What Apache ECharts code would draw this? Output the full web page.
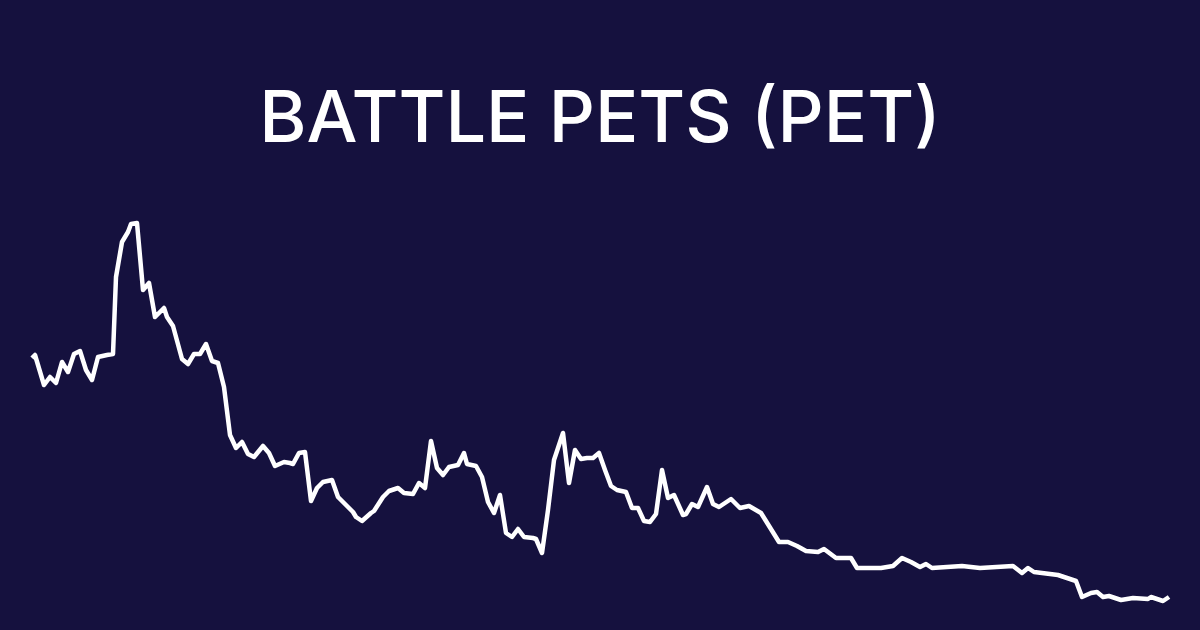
<!DOCTYPE html>
<html>
<head>
<meta charset="utf-8">
<script src="https://cdn.jsdelivr.net/npm/echarts@6/dist/echarts.min.js"></script>
<style>
html,body{margin:0;padding:0;background:#15113e;}
#chart{width:1200px;height:630px;}
</style>
</head>
<body>
<div id="chart"></div>
<script>
const titleText = "BATTLE PETS (PET)";
const days = [0,1,4,6,8,10,12,14,16,18,20,22,25,27,28,30,32,33,35,37,39,41,44,45,47,50,52,54,56,58,60,62,64,66,68,70,72,74,77,79,81,84,86,87,89,91,93,95,97,100,102,104,107,108,110,113,114,117,119,122,124,127,129,131,133,135,137,139,142,144,145,148,150,152,154,156,158,160,162,164,167,168,170,172,174,177,179,181,183,185,187,189,191,193,195,198,200,202,204,206,208,210,212,214,217,218,220,222,225,227,229,233,236,239,243,249,252,255,258,262,264,268,273,275,283,287,290,293,296,298,300,310,316,327,330,332,334,342,348,350,353,355,357,359,363,367,372,373,377,379];
const prices = [0.272,0.275,0.245,0.253,0.247,0.268,0.258,0.276,0.279,0.260,0.250,0.273,0.275,0.276,0.353,0.388,0.398,0.406,0.407,0.340,0.347,0.313,0.322,0.313,0.304,0.271,0.266,0.276,0.276,0.286,0.269,0.267,0.243,0.195,0.182,0.188,0.176,0.173,0.184,0.177,0.164,0.168,0.167,0.166,0.177,0.178,0.129,0.142,0.148,0.150,0.133,0.127,0.118,0.113,0.109,0.117,0.119,0.133,0.139,0.142,0.137,0.136,0.147,0.142,0.189,0.162,0.155,0.163,0.165,0.177,0.166,0.164,0.153,0.128,0.117,0.135,0.097,0.093,0.101,0.093,0.092,0.091,0.077,0.120,0.170,0.197,0.147,0.180,0.171,0.172,0.172,0.177,0.160,0.144,0.140,0.138,0.122,0.122,0.109,0.108,0.116,0.160,0.132,0.135,0.115,0.116,0.126,0.123,0.143,0.126,0.123,0.131,0.122,0.124,0.117,0.088,0.088,0.084,0.079,0.078,0.081,0.072,0.072,0.062,0.062,0.064,0.072,0.068,0.063,0.066,0.062,0.064,0.062,0.064,0.057,0.062,0.058,0.055,0.049,0.033,0.037,0.038,0.033,0.034,0.030,0.032,0.031,0.033,0.029,0.033];

const seriesData = days.map((d, i) => [d, prices[i]]);

const chart = echarts.init(document.getElementById('chart'), null, {renderer: 'canvas'});
chart.setOption({
  backgroundColor: '#15113e',
  animation: false,
  title: {
    text: titleText,
    left: 'center',
    top: 78,
    padding: 0,
    textStyle: {
      color: '#ffffff',
      fontFamily: 'Inter',
      fontWeight: 500,
      fontSize: 72,
      lineHeight: 84
    }
  },
  grid: {left: 32, right: 31, top: 0, bottom: 0},
  xAxis: {type: 'value', min: 0, max: 379, show: false, splitLine: {show: false}},
  yAxis: {type: 'value', min: 0, max: 0.63, show: false, splitLine: {show: false}},
  series: [{
    type: 'line',
    data: seriesData,
    showSymbol: false,
    lineStyle: {color: '#ffffff', width: 4.5, join: 'round'},
    silent: true
  }]
});
</script>
</body>
</html>
